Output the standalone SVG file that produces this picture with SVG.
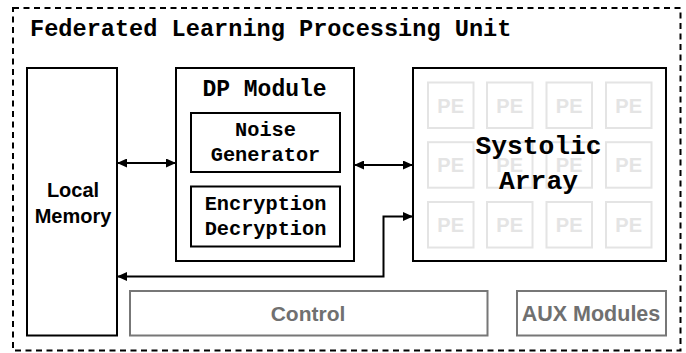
<svg xmlns="http://www.w3.org/2000/svg" width="686" height="353" viewBox="0 0 686 353">
  <style>
    .box { fill: #ffffff; stroke: #000000; stroke-width: 2; }
    .gbox { fill: #ffffff; stroke: #777777; stroke-width: 2; }
    .pe { fill: none; stroke: #e4e4e4; stroke-width: 2; }
    .mono { font-family: "Liberation Mono", "DejaVu Sans Mono", monospace; font-weight: bold; fill: #000000; }
    .sans { font-family: "Liberation Sans", Arial, sans-serif; font-weight: bold; }
    .petxt { font-family: "Liberation Sans", Arial, sans-serif; font-weight: bold; fill: #e4e4e4; font-size: 20px; }
    .wire { fill: none; stroke: #000000; stroke-width: 2; }
  </style>
  <defs>
    <marker id="arrow" viewBox="0 0 10 9" refX="10" refY="4.5" markerWidth="10" markerHeight="9" markerUnits="userSpaceOnUse" orient="auto-start-reverse">
      <path d="M0,0 L10,4.5 L0,9 z" fill="#000000"/>
    </marker>
  </defs>

  <rect x="0" y="0" width="686" height="353" fill="#ffffff"/>

  <!-- outer unit boundary -->
  <g id="fl-unit">
    <rect x="13" y="8" width="667.5" height="342.5" fill="none" stroke="#000000" stroke-width="2" stroke-dasharray="6 4.5"/>
    <text class="mono" x="30" y="36" font-size="23.6">Federated Learning Processing Unit</text>
  </g>

  <!-- local memory -->
  <g id="local-memory">
    <rect class="box" x="27" y="68" width="90" height="267.5"/>
    <text class="sans" x="73" y="196.5" font-size="20" text-anchor="middle">Local</text>
    <text class="sans" x="73" y="223" font-size="20" text-anchor="middle">Memory</text>
  </g>

  <!-- differential privacy module -->
  <g id="dp-module">
    <rect class="box" x="176" y="68" width="178" height="193"/>
    <text class="mono" x="264.5" y="96" font-size="23" text-anchor="middle">DP Module</text>
  </g>

  <g id="noise-generator">
    <rect class="box" x="191" y="113" width="149" height="59"/>
    <text class="mono" x="265.5" y="135.5" font-size="20.3" text-anchor="middle">Noise</text>
    <text class="mono" x="265.5" y="160.5" font-size="20.3" text-anchor="middle">Generator</text>
  </g>

  <g id="encryption">
    <rect class="box" x="191" y="186.5" width="149" height="60"/>
    <text class="mono" x="265.5" y="210" font-size="20.3" text-anchor="middle">Encryption</text>
    <text class="mono" x="265.5" y="235" font-size="20.3" text-anchor="middle">Decryption</text>
  </g>

  <!-- systolic array with PE grid -->
  <g id="systolic-array">
    <rect class="box" x="413" y="68" width="253" height="193"/>
    <g id="pe-grid">
      <rect class="pe" x="428" y="82.5" width="45.5" height="45.5"/>
      <rect class="pe" x="487" y="82.5" width="45.5" height="45.5"/>
      <rect class="pe" x="546.5" y="82.5" width="45.5" height="45.5"/>
      <rect class="pe" x="606" y="82.5" width="45.5" height="45.5"/>
      <rect class="pe" x="428" y="142.2" width="45.5" height="45.5"/>
      <rect class="pe" x="487" y="142.2" width="45.5" height="45.5"/>
      <rect class="pe" x="546.5" y="142.2" width="45.5" height="45.5"/>
      <rect class="pe" x="606" y="142.2" width="45.5" height="45.5"/>
      <rect class="pe" x="428" y="202" width="45.5" height="45.5"/>
      <rect class="pe" x="487" y="202" width="45.5" height="45.5"/>
      <rect class="pe" x="546.5" y="202" width="45.5" height="45.5"/>
      <rect class="pe" x="606" y="202" width="45.5" height="45.5"/>
      <g text-anchor="middle">
        <text class="petxt" x="450.7" y="112.5">PE</text>
        <text class="petxt" x="509.7" y="112.5">PE</text>
        <text class="petxt" x="569.2" y="112.5">PE</text>
        <text class="petxt" x="628.7" y="112.5">PE</text>
        <text class="petxt" x="450.7" y="172.2">PE</text>
        <text class="petxt" x="509.7" y="172.2">PE</text>
        <text class="petxt" x="569.2" y="172.2">PE</text>
        <text class="petxt" x="628.7" y="172.2">PE</text>
        <text class="petxt" x="450.7" y="232">PE</text>
        <text class="petxt" x="509.7" y="232">PE</text>
        <text class="petxt" x="569.2" y="232">PE</text>
        <text class="petxt" x="628.7" y="232">PE</text>
      </g>
    </g>
    <text class="mono" x="538.5" y="153.5" font-size="26.3" text-anchor="middle">Systolic</text>
    <text class="mono" x="538.5" y="188.5" font-size="26.3" text-anchor="middle">Array</text>
  </g>

  <!-- control and auxiliary blocks -->
  <g id="control">
    <rect class="gbox" x="130" y="291" width="357.5" height="44.5"/>
    <text class="sans" x="308" y="321" font-size="21" fill="#707070" text-anchor="middle">Control</text>
  </g>

  <g id="aux-modules">
    <rect class="gbox" x="517" y="291" width="149" height="44.5"/>
    <text class="sans" x="591" y="321" font-size="21.5" fill="#707070" text-anchor="middle">AUX Modules</text>
  </g>

  <!-- connectors -->
  <g id="connectors">
    <path class="wire" d="M117,163 H176" marker-start="url(#arrow)" marker-end="url(#arrow)"/>
    <path class="wire" d="M354,165 H413" marker-start="url(#arrow)" marker-end="url(#arrow)"/>
    <path class="wire" d="M117,276.5 H383.5 V216.5 H413" marker-start="url(#arrow)" marker-end="url(#arrow)"/>
  </g>
</svg>
